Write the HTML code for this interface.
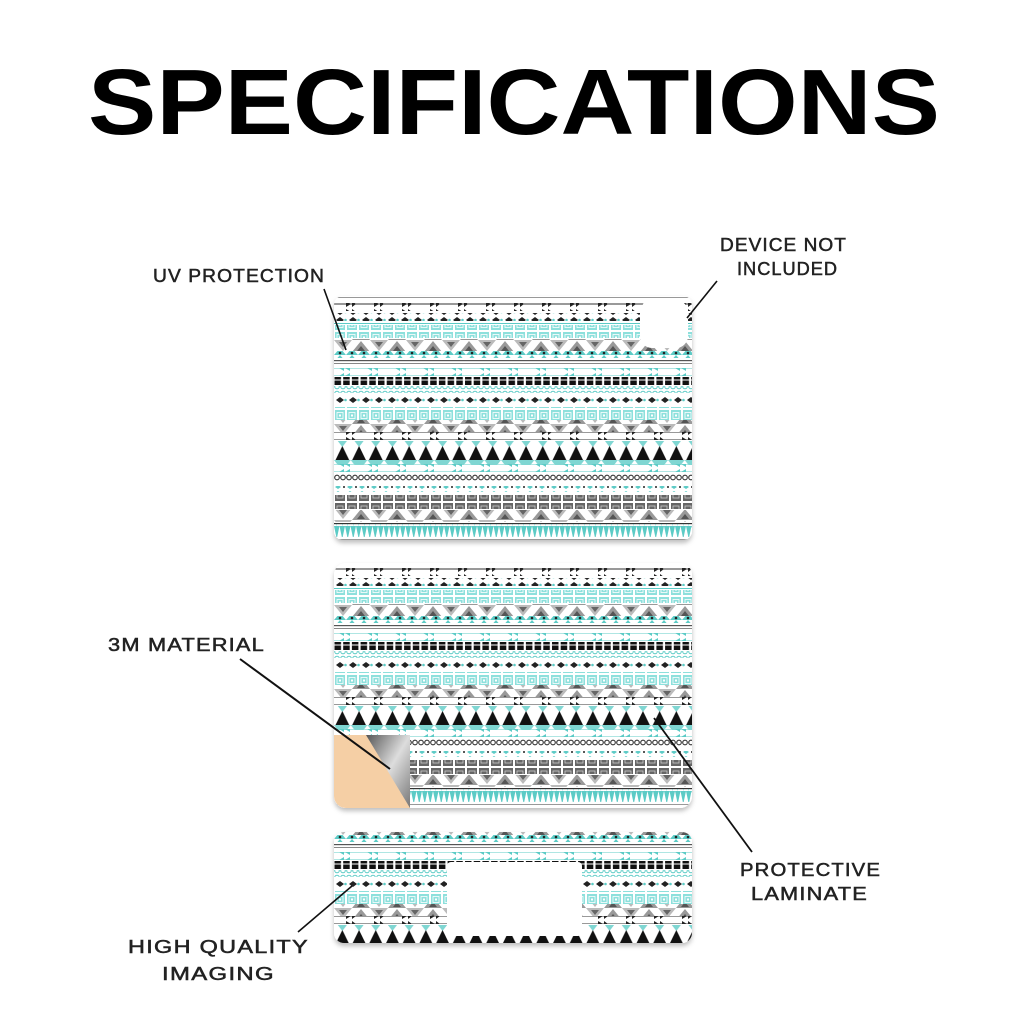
<!DOCTYPE html>
<html><head><meta charset="utf-8"><style>
html,body{margin:0;padding:0;background:#fff;width:1024px;height:1024px;overflow:hidden}
svg{display:block}
.l{font-family:"Liberation Sans",sans-serif;font-size:18px;font-weight:normal;fill:#222;stroke:#222;stroke-width:0.5;letter-spacing:1px}
</style></head><body>
<svg width="1024" height="1024" viewBox="0 0 1024 1024" xmlns="http://www.w3.org/2000/svg">
<defs>
  <pattern id="arrB" width="28" height="8" patternUnits="userSpaceOnUse">
    <line x1="0" y1="4" x2="28" y2="4" stroke="#333" stroke-width="1"/>
    <path d="M12 1 L17 4 L12 7Z M18 1 L22 4 L18 7Z" fill="#222"/>
  </pattern>
  <pattern id="arrT" width="28" height="8" patternUnits="userSpaceOnUse">
    <line x1="0" y1="4" x2="28" y2="4" stroke="#7fd6d2" stroke-width="1.2"/>
    <path d="M10 1 L5 4 L10 7Z M16 1 L11 4 L16 7Z" fill="#5ccbc6"/>
  </pattern>
  <pattern id="dia" width="13" height="8" patternUnits="userSpaceOnUse">
    <path d="M2 4 L6 1 L10 4 L6 7Z" fill="#222"/><circle cx="11.5" cy="4" r="1.3" fill="#5ccbc6"/>
  </pattern>
  <pattern id="tsq" width="12" height="13" patternUnits="userSpaceOnUse">
    <rect x="0.5" y="0.5" width="11" height="12" fill="#8de0dc" stroke="#fff" stroke-width="1"/>
    <rect x="3" y="3.5" width="6" height="6" fill="none" stroke="#fff" stroke-width="0.8"/>
    <rect x="5" y="5.5" width="2" height="2" fill="#fff"/>
  </pattern>
  <pattern id="gtri" width="36" height="12" patternUnits="userSpaceOnUse">
    <path d="M0 0 L18 0 L9 11Z" fill="#bbb"/><path d="M18 12 L27 1 L36 12Z" fill="#999"/>
    <path d="M5 2 L13 2 L9 7Z" fill="#666"/><path d="M23 11 L27 6 L31 11Z" fill="#555"/>
  </pattern>
  <pattern id="ttri" width="12" height="7" patternUnits="userSpaceOnUse">
    <path d="M0 7 L6 0 L12 7Z" fill="#5ccbc6"/><circle cx="6" cy="5" r="1.3" fill="#222"/>
  </pattern>
  <pattern id="bsq" width="8.7" height="8" patternUnits="userSpaceOnUse">
    <rect x="0.5" y="0.5" width="6.5" height="7" fill="#111"/>
  </pattern>
  <pattern id="tcir" width="6" height="7" patternUnits="userSpaceOnUse">
    <circle cx="3" cy="3.5" r="2.3" fill="none" stroke="#5ccbc6" stroke-width="1"/>
  </pattern>
  <pattern id="kcir" width="6" height="7" patternUnits="userSpaceOnUse">
    <circle cx="3" cy="3.5" r="2.3" fill="none" stroke="#333" stroke-width="1.1"/>
  </pattern>
  <pattern id="dots" width="12" height="6" patternUnits="userSpaceOnUse">
    <path d="M1 3 L4 1 L7 3 L4 5Z" fill="#5ccbc6"/><circle cx="10" cy="3" r="1" fill="#222"/>
  </pattern>
  <pattern id="gsq" width="12" height="14" patternUnits="userSpaceOnUse">
    <rect x="0.5" y="0.5" width="11" height="13" fill="#666" stroke="#fff" stroke-width="1"/>
    <rect x="3" y="4" width="6" height="6" fill="none" stroke="#ccc" stroke-width="0.8"/>
  </pattern>
  <pattern id="bigtri" width="16.7" height="24" patternUnits="userSpaceOnUse">
    <path d="M0 0 L16.7 0 L8.35 11Z" fill="#7fd6d2"/>
    <path d="M1.5 24 L8.35 10 L15.2 24Z" fill="#111"/>
  </pattern>
  <pattern id="spk" width="5.5" height="13" patternUnits="userSpaceOnUse">
    <path d="M0 0 L5.5 0 L2.75 13Z" fill="#5ccbc6"/>
  </pattern>
  <g id="bands">
    <rect x="0" y="0" width="400" height="260" fill="#fff"/>
    <rect x="0" y="5" width="400" height="1" fill="#999"/>
    <rect x="0" y="11" width="400" height="8" fill="url(#arrB)"/>
    <rect x="0" y="21" width="400" height="8" fill="url(#dia)"/>
    <rect x="0" y="31" width="400" height="1" fill="#5ccbc6"/>
    <rect x="0" y="33" width="400" height="13" fill="url(#tsq)"/>
    <rect x="0" y="47" width="400" height="12" fill="url(#gtri)"/>
    <rect x="0" y="59" width="400" height="7" fill="url(#ttri)"/>
    <rect x="0" y="68" width="400" height="1.2" fill="#555"/>
    <rect x="0" y="71" width="400" height="1" fill="#888"/>
    <rect x="0" y="76" width="400" height="8" fill="url(#arrT)"/>
    <rect x="0" y="85" width="400" height="8" fill="url(#bsq)"/>
    <rect x="0" y="94" width="400" height="7" fill="url(#tcir)"/>
    <rect x="0" y="104" width="400" height="8" fill="url(#dia)"/>
    <rect x="0" y="115" width="400" height="13" fill="url(#tsq)"/>
    <rect x="0" y="128" width="400" height="12" fill="url(#gtri)"/>
    <rect x="0" y="140" width="400" height="8" fill="url(#arrB)"/>
    <rect x="0" y="149" width="400" height="24" fill="url(#bigtri)"/>
    <rect x="0" y="172" width="400" height="8" fill="url(#arrT)"/>
    <rect x="0" y="182" width="400" height="7" fill="url(#kcir)"/>
    <rect x="0" y="194" width="400" height="6" fill="url(#dots)"/>
    <rect x="0" y="203" width="400" height="14" fill="url(#gsq)"/>
    <rect x="0" y="218" width="400" height="12" fill="url(#gtri)"/>
    <rect x="0" y="231" width="400" height="1.2" fill="#333"/>
    <rect x="0" y="232" width="400" height="13" fill="url(#spk)"/>
    <rect x="0" y="247" width="400" height="1" fill="#999"/>
  </g>
  <clipPath id="c1"><rect x="334" y="296" width="358" height="244" rx="9"/></clipPath>
  <clipPath id="c2"><rect x="334" y="563" width="358" height="245" rx="12"/></clipPath>
  <clipPath id="c3"><rect x="334" y="832" width="358" height="111" rx="10"/></clipPath>
  <linearGradient id="curl" x1="0" y1="0" x2="1" y2="1">
    <stop offset="0" stop-color="#555"/><stop offset="0.5" stop-color="#ddd"/><stop offset="1" stop-color="#777"/>
  </linearGradient>
  <filter id="sh" x="-5%" y="-5%" width="110%" height="115%"><feDropShadow dx="0" dy="3" stdDeviation="2.5" flood-color="#000" flood-opacity="0.25"/></filter>
</defs>

<text x="88" y="134" font-family="Liberation Sans, sans-serif" font-weight="bold" font-size="93" textLength="852" lengthAdjust="spacingAndGlyphs" fill="#000">SPECIFICATIONS</text>

<rect x="334" y="296" width="358" height="244" rx="9" fill="#fff" filter="url(#sh)"/>
<g clip-path="url(#c1)"><use href="#bands" transform="translate(334,292)"/>
  <rect x="640" y="300" width="48" height="48" rx="12" fill="#fff"/></g>

<rect x="334" y="563" width="358" height="245" rx="12" fill="#fff" filter="url(#sh)"/>
<g clip-path="url(#c2)"><use href="#bands" transform="translate(334,557)"/>
  <rect x="334" y="735" width="76" height="73" fill="#f5cfa5"/>
  <path d="M366 735 L410 735 L410 808 Z" fill="url(#curl)"/>
</g>

<rect x="334" y="832" width="358" height="111" rx="10" fill="#fff" filter="url(#sh)"/>
<g clip-path="url(#c3)"><use href="#bands" transform="translate(334,776)"/>
  <rect x="447" y="862" width="135" height="74" rx="4" fill="#fff"/></g>

<text class="l" x="153" y="282" textLength="172" lengthAdjust="spacingAndGlyphs">UV PROTECTION</text>
<line x1="324" y1="289" x2="346" y2="350" stroke="#111" stroke-width="1.6"/>
<text class="l" x="720" y="251" textLength="127" lengthAdjust="spacingAndGlyphs">DEVICE NOT</text>
<text class="l" x="737" y="275" textLength="101" lengthAdjust="spacingAndGlyphs">INCLUDED</text>
<line x1="717" y1="281" x2="687" y2="318" stroke="#111" stroke-width="1.6"/>
<text class="l" x="108" y="651" textLength="157" lengthAdjust="spacingAndGlyphs">3M MATERIAL</text>
<line x1="240" y1="659" x2="390" y2="769" stroke="#111" stroke-width="2"/>
<text class="l" x="740" y="876" textLength="141" lengthAdjust="spacingAndGlyphs">PROTECTIVE</text>
<text class="l" x="751" y="900" textLength="117" lengthAdjust="spacingAndGlyphs">LAMINATE</text>
<line x1="752" y1="852" x2="654" y2="718" stroke="#111" stroke-width="1.8"/>
<text class="l" x="128" y="953" textLength="181" lengthAdjust="spacingAndGlyphs">HIGH QUALITY</text>
<text class="l" x="162" y="980" textLength="113" lengthAdjust="spacingAndGlyphs">IMAGING</text>
<line x1="298" y1="932" x2="352" y2="886" stroke="#111" stroke-width="1.6"/>
</svg>
</body></html>
